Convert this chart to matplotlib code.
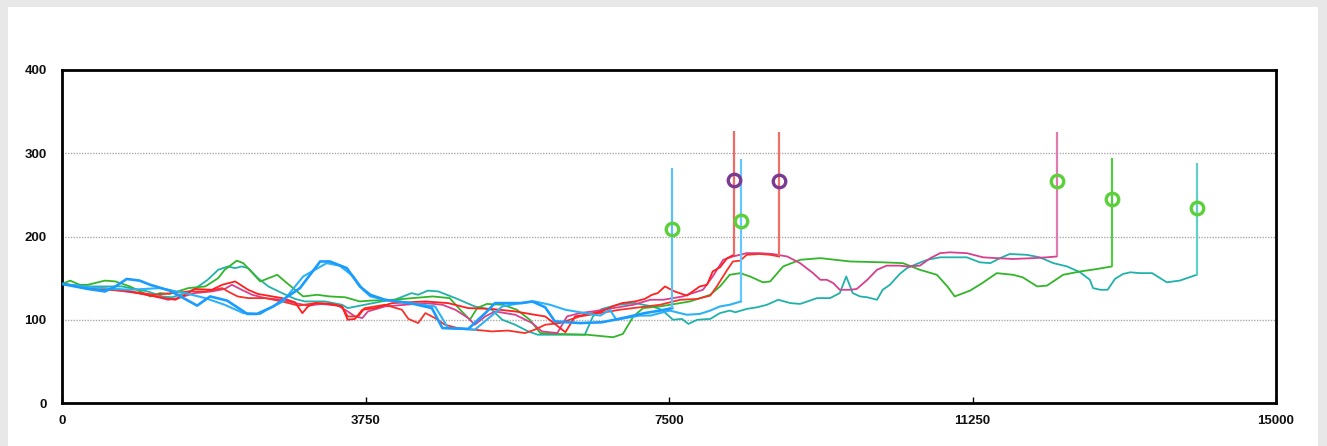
import matplotlib
matplotlib.use("Agg")
import matplotlib.pyplot as plt
from matplotlib.patches import Rectangle

# ---- data ----
blue1_x = [0, 320, 530, 660, 800, 960, 1090, 1330, 1520, 1670, 1830, 2040, 2290, 2410, 2610, 2730,
           2940, 3190, 3310, 3520, 3680, 3810, 3990, 4300, 4570, 4700, 5020, 5230, 5350, 5680, 5810,
           5970, 6090, 6400, 6670, 6830, 7020, 7200, 7390, 7540]
blue1_y = [143, 137, 134, 140, 149, 147, 142, 135, 125, 117, 128, 123, 107, 107, 116, 124,
           138, 170, 170, 162, 140, 130, 124, 120, 114, 90, 89, 108, 120, 120, 122,
           115, 98, 96, 97, 100, 104, 108, 111, 114]

blue2_x = [0, 470, 840, 1210, 1520, 1770, 2010, 2240, 2450, 2530, 2730, 2980, 3270, 3430, 3600, 3720,
           3810, 3990, 4300, 4610, 4770, 5100, 5310, 5440, 5660, 5840, 6030, 6220, 6460, 6650, 6770,
           6850, 6960, 7140, 7270, 7510, 7720, 7880, 8010, 8130, 8250, 8390]
blue2_y = [143, 138, 136, 138, 132, 126, 118, 108, 107, 112, 122, 152, 168, 165, 152, 136,
           128, 124, 120, 116, 90, 88, 105, 116, 120, 122, 118, 112, 108, 105, 112,
           100, 102, 105, 105, 111, 106, 107, 111, 116, 118, 122]

green_x = [0, 100, 220, 320, 530, 660, 840, 1090, 1210, 1330, 1560, 1770, 1930, 2010, 2160, 2240,
           2450, 2660, 2780, 2980, 3150, 3310, 3500, 3680, 3810, 4090, 4580, 4790, 4920, 5040, 5130,
           5250, 5450, 5620, 5780, 5910, 6120, 6490, 6810, 6930, 7060, 7180, 7390, 7760, 8010, 8130,
           8250, 8380, 8500, 8660, 8750, 8910, 9120, 9370, 9740, 10140, 10390, 10600, 10810, 10940,
           11030, 11220, 11370, 11550, 11750, 11870, 12050, 12170, 12370, 12580, 12790, 12970]
green_y = [143, 147, 142, 142, 147, 146, 140, 128, 132, 131, 138, 140, 150, 160, 171, 168,
           146, 154, 144, 128, 130, 128, 127, 122, 123, 124, 128, 126, 112, 100, 114,
           119, 118, 112, 100, 84, 83, 82, 79, 83, 104, 114, 116, 122, 130, 140,
           154, 156, 152, 145, 146, 164, 172, 174, 170, 169, 168, 160, 154, 140,
           128, 135, 144, 156, 154, 151, 140, 141, 154, 158, 161, 164]

teal_x = [0, 320, 740, 1060, 1240, 1360, 1520, 1640, 1800, 1930, 2050, 2140, 2220, 2300, 2420, 2550,
          2720, 2880, 3000, 3250, 3460, 3530, 3740, 3950, 4110, 4320, 4400, 4520, 4650, 4860, 5100,
          5310, 5440, 5600, 5760, 5880, 6460, 6560, 6670, 6870, 7080, 7290, 7410, 7550, 7660, 7740,
          7850, 8010, 8130, 8250, 8320, 8460, 8590, 8710, 8850, 9000, 9120, 9330, 9490, 9610, 9690,
          9770, 9860, 9950, 10070, 10140, 10230, 10350, 10440, 10560, 10690, 10850, 11060, 11180,
          11340, 11470, 11590, 11710, 11920, 12080, 12250, 12420, 12580, 12700, 12740, 12830, 12920,
          13010, 13110, 13200, 13320, 13470, 13650, 13810, 14020]
teal_y = [143, 140, 140, 134, 128, 127, 132, 137, 148, 160, 164, 162, 164, 162, 150, 140,
          132, 125, 122, 122, 118, 114, 118, 122, 124, 132, 130, 135, 134, 126, 116,
          112, 100, 94, 86, 82, 82, 104, 113, 118, 120, 116, 112, 100, 101, 95,
          100, 101, 108, 111, 109, 113, 115, 118, 124, 120, 119, 126, 126, 132, 152,
          132, 128, 127, 124, 136, 142, 155, 162, 167, 172, 175, 175, 175,
          169, 168, 174, 179, 178, 175, 168, 164, 157, 148, 138, 136, 136,
          149, 155, 157, 156, 156, 145, 147, 154]

pink_x = [0, 320, 530, 940, 1150, 1310, 1430, 1640, 1850, 2010, 2100, 2220, 2350, 2510, 2720, 2880,
          3040, 3210, 3410, 3530, 3620, 3710, 3780, 3990, 4490, 4700, 4860, 5020, 5100, 5230, 5350,
          5600, 5810, 5930, 6120, 6240, 6400, 6560, 6810, 7060, 7270, 7430, 7670, 7760, 7920, 8040,
          8170, 8290, 8460, 8620, 8780, 8960, 9120, 9280, 9370, 9450, 9530, 9610, 9740, 9820, 9950,
          10070, 10190, 10350, 10440, 10600, 10730, 10850, 10970, 11180, 11380, 11550, 11750, 12000,
          12170, 12290]
pink_y = [143, 139, 137, 132, 128, 124, 126, 132, 134, 137, 142, 136, 130, 126, 124, 120,
          117, 119, 117, 110, 104, 102, 110, 116, 120, 118, 112, 102, 94, 104, 110,
          106, 96, 86, 84, 104, 108, 110, 114, 118, 124, 124, 128, 131, 136, 152,
          172, 176, 180, 180, 179, 176, 168, 156, 148, 148, 144, 136, 136, 137, 148,
          160, 165, 165, 164, 165, 174, 180, 181, 180, 175, 174, 173, 174,
          175, 176]

redA_x = [0, 320, 740, 940, 1150, 1400, 1560, 1640, 1850, 1980, 2140, 2300, 2420, 2720, 2880, 2970,
          3040, 3130, 3290, 3460, 3530, 3620, 3710, 3870, 4080, 4490, 4770, 5020, 5310, 5600, 5840,
          5970, 6090, 6220, 6340, 6460, 6670, 6800, 6920, 7080, 7200, 7290, 7360, 7450, 7570, 7720,
          7880, 7970, 8040, 8130, 8220, 8300]
redA_y = [143, 139, 136, 132, 128, 124, 132, 137, 136, 142, 146, 136, 131, 126, 121, 108,
          116, 120, 119, 116, 100, 101, 112, 114, 120, 122, 120, 114, 113, 110, 106,
          104, 95, 85, 104, 106, 110, 116, 120, 122, 125, 130, 132, 140, 134, 129,
          140, 142, 158, 163, 174, 178]

redB_x = [0, 320, 740, 1150, 1560, 1770, 1980, 2050, 2170, 2300, 2510, 2720, 2920, 3130, 3340, 3460,
          3530, 3660, 3740, 3990, 4200, 4280, 4400, 4490, 4610, 4730, 4890, 5100, 5310, 5510, 5720,
          5840, 5970, 6150, 6400, 6650, 6890, 7140, 7390, 7640, 7850, 8010, 8090, 8220, 8290, 8380,
          8460, 8620, 8750, 8860]
redB_y = [143, 138, 135, 130, 134, 134, 138, 134, 128, 126, 126, 122, 117, 120, 119, 116,
          104, 104, 114, 118, 112, 101, 96, 108, 102, 94, 90, 88, 86, 87, 84,
          88, 94, 96, 104, 108, 112, 115, 118, 124, 125, 129, 140, 160, 170, 171,
          178, 179, 178, 176]

# end-of-run spike tops and circle markers
spike_top = {"blue1": 282, "blue2": 293, "redA": 327, "redB": 326, "pink": 326, "green": 294, "teal": 288}
marker_y = {"blue1": 209, "blue2": 219, "redA": 268, "redB": 267, "pink": 267, "green": 245, "teal": 234}

series = [
    ("teal", teal_x, teal_y, "#20b2aa", "#62cfc9", 1.3, "#5cd03a"),
    ("green", green_x, green_y, "#33b52a", "#55c948", 1.3, "#5cd03a"),
    ("pink", pink_x, pink_y, "#d6408e", "#e07aaf", 1.3, "#5cd03a"),
    ("redB", redB_x, redB_y, "#f5332a", "#f07068", 1.3, "#7a3a92"),
    ("redA", redA_x, redA_y, "#ff1f1f", "#f06a66", 1.3, "#7a3a92"),
    ("blue2", blue2_x, blue2_y, "#2eb2f7", "#62c8ff", 1.5, "#5cd03a"),
    ("blue1", blue1_x, blue1_y, "#1a9cff", "#5cc0ff", 1.9, "#5cd03a"),
]

fig = plt.figure(figsize=(13.27, 4.46), dpi=100, facecolor="#e8e8e8")
fig.patches.append(Rectangle((8 / 1327, 0), 1310 / 1327, 439 / 446, transform=fig.transFigure,
                             facecolor="white", edgecolor="none", zorder=-10))
ax = fig.add_axes([62 / 1327, 1 - 403 / 446, 1214 / 1327, 333 / 446])
ax.set_facecolor("white")

for name, xs, ys, col, vcol, lw, mcol in series:
    ax.plot(xs, ys, color=col, lw=lw, zorder=3)
    ax.vlines(xs[-1], ys[-1], spike_top[name], color=vcol, lw=1.6, zorder=3)
    ax.plot(xs[-1], marker_y[name], marker="o", ms=9, mfc="none", mec=mcol, mew=2.4, zorder=4)

ax.set_xlim(0, 15000)
ax.set_ylim(0, 400)
ax.set_xticks([0, 3750, 7500, 11250, 15000])
ax.set_yticks([0, 100, 200, 300, 400])
for v in [100, 200, 300]:
    ax.axhline(v, color="#aaaaaa", lw=1.0, ls=(0, (1, 1)), zorder=1)

for s in ax.spines.values():
    s.set_color("black")
    s.set_linewidth(2)

ax.tick_params(axis="x", direction="in", length=4, width=1, pad=9)
ax.tick_params(axis="y", length=0, pad=11)
for lab in ax.get_xticklabels() + ax.get_yticklabels():
    lab.set_fontfamily("Liberation Sans")
    lab.set_fontweight("bold")
    lab.set_fontsize(9.5)
    lab.set_color("#111111")

fig.savefig("out.png", dpi=100, facecolor=fig.get_facecolor())
